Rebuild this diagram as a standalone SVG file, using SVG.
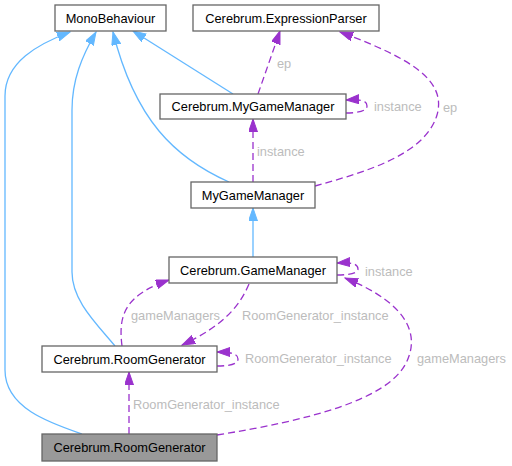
<svg xmlns="http://www.w3.org/2000/svg" width="512" height="466" viewBox="0 0 512 466">
<style>
.box{fill:#ffffff;stroke:#666666;stroke-width:1.3}
.cur{fill:#999999;stroke:#666666;stroke-width:1.3}
.nt{font-family:"Liberation Sans",Arial,sans-serif;font-size:12.8px;fill:#000000;text-anchor:middle}
.lt{font-family:"Liberation Sans",Arial,sans-serif;font-size:12.8px;fill:#bcbcbc}
.inh{fill:none;stroke:#63b8ff;stroke-width:1.3;marker-end:url(#ab)}
.use{fill:none;stroke:#9a32cd;stroke-width:1.3;stroke-dasharray:7,4;marker-end:url(#ap)}
</style>
<defs>
<marker id="ab" markerUnits="userSpaceOnUse" markerWidth="14" markerHeight="10" refX="13" refY="4.5" orient="auto"><path d="M0,0 L13,4.5 L0,9 z" fill="#63b8ff" stroke="#63b8ff"/></marker>
<marker id="ap" markerUnits="userSpaceOnUse" markerWidth="14" markerHeight="10" refX="13" refY="4.5" orient="auto"><path d="M0,0 L13,4.5 L0,9 z" fill="#9a32cd" stroke="#9a32cd"/></marker>
</defs>
<g id="connectors">
<path class="inh" d="M82,434 C50,423 5,408 5,370 L5,96 C5,62 38,44 70,32"/>
<path class="inh" d="M115,346 C95,322 72,300 72,272 L72,110 C72,80 82,56 96,32"/>
<path class="inh" d="M229,182 C175,158 135,120 113,32"/>
<path class="inh" d="M233,94 L133,31"/>
<path class="inh" d="M253,257 L253,208"/>
<path class="use" d="M258,94 L280,31"/>
<text class="lt" x="277" y="68">ep</text>
<path class="use" d="M346,113 C358,113 367,111 367,106 C367,101 362,99 346,100"/>
<text class="lt" x="374" y="111">instance</text>
<path class="use" d="M315,186 C365,172 425,155 437,115 C447,80 410,58 340,32"/>
<text class="lt" x="443" y="112">ep</text>
<path class="use" d="M253,182 L253,119"/>
<text class="lt" x="257" y="156">instance</text>
<path class="use" d="M337,275 C350,275 358,273 358,269 C358,264 352,262 337,263"/>
<text class="lt" x="365" y="276">instance</text>
<path class="use" d="M249,284 C240,305 225,325 182,345"/>
<text class="lt" x="242" y="320">RoomGenerator_instance</text>
<path class="use" d="M122,346 C118,315 125,295 169,280"/>
<text class="lt" x="131" y="320">gameManagers</text>
<path class="use" d="M217,366 C230,366 238,364 238,359 C238,354 232,352 217,352"/>
<text class="lt" x="245" y="363">RoomGenerator_instance</text>
<path class="use" d="M129,434 L129,372"/>
<text class="lt" x="133" y="409">RoomGenerator_instance</text>
<path class="use" d="M217,435 C310,420 385,400 405,365 C420,338 412,305 345,278"/>
<text class="lt" x="417" y="363">gameManagers</text>
</g>
<g id="MonoBehaviour"><rect class="box" x="55" y="5" width="111" height="26"/><text class="nt" x="110.5" y="22.5">MonoBehaviour</text></g>
<g id="ExpressionParser"><rect class="box" x="193" y="5" width="186" height="26"/><text class="nt" x="286" y="22.5">Cerebrum.ExpressionParser</text></g>
<g id="CerebrumMyGameManager"><rect class="box" x="160" y="94" width="186" height="25"/><text class="nt" x="253" y="111">Cerebrum.MyGameManager</text></g>
<g id="MyGameManager"><rect class="box" x="191" y="182" width="124" height="26"/><text class="nt" x="253" y="199.5">MyGameManager</text></g>
<g id="GameManager"><rect class="box" x="169" y="257" width="168" height="26"/><text class="nt" x="253" y="274.5">Cerebrum.GameManager</text></g>
<g id="RoomGenerator"><rect class="box" x="42" y="346" width="175" height="26"/><text class="nt" x="129.5" y="363.5">Cerebrum.RoomGenerator</text></g>
<g id="RoomGeneratorCurrent"><rect class="cur" x="42" y="434" width="175" height="27"/><text class="nt" x="129.5" y="452">Cerebrum.RoomGenerator</text></g>
</svg>
